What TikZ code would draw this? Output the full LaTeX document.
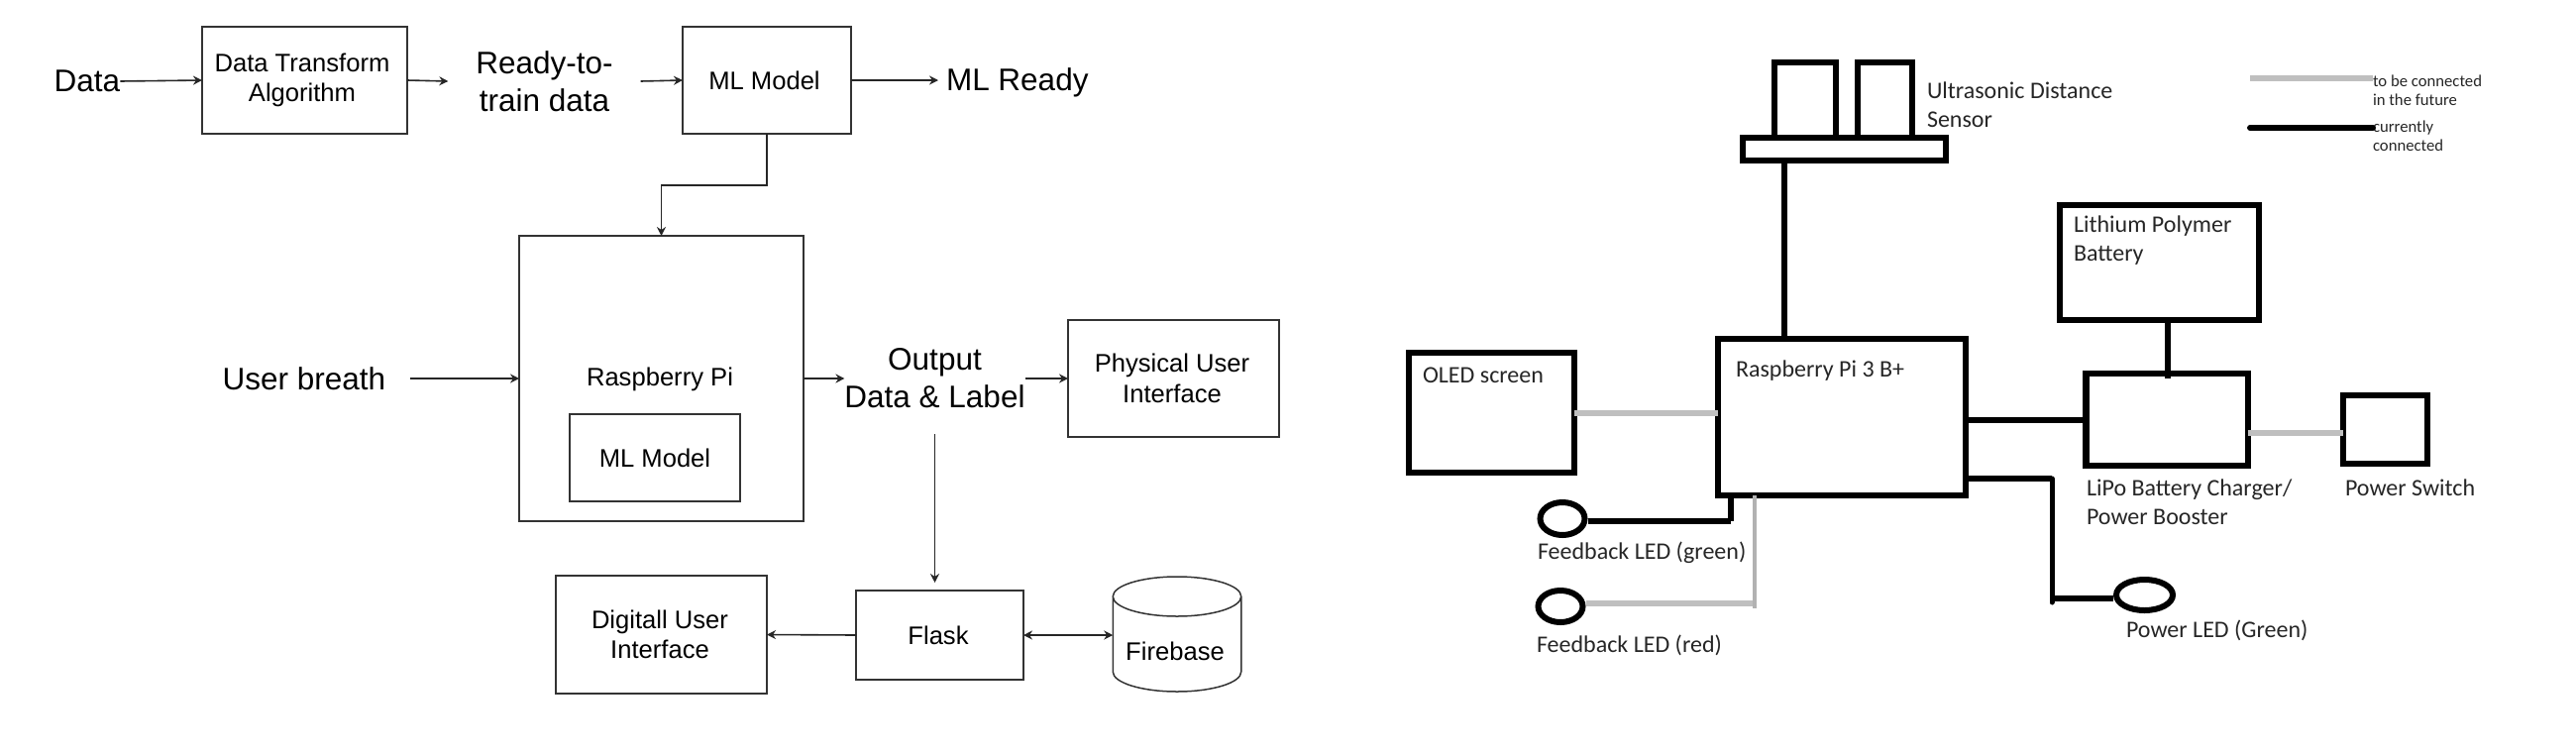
\documentclass[tikz,border=0pt]{standalone}
\usepackage{fontspec}
\setmainfont{Liberation Sans}
\newfontfamily\calfont{Carlito}
\usetikzlibrary{arrows.meta,shapes.geometric}
\tikzset{
  flow/.style={draw=black!85,line width=1.6pt,-{Stealth[length=9pt,width=9pt]}},
  flowtwo/.style={draw=black!85,line width=1.6pt,{Stealth[length=9pt,width=9pt]}-{Stealth[length=9pt,width=9pt]}},
  fbox/.style={draw=black!80,line width=1.5pt,inner sep=0pt,outer sep=0pt,align=center,font=\fontsize{25.6}{30.5}\selectfont},
  bigtxt/.style={inner sep=0pt,outer sep=0pt,align=center,font=\fontsize{31.5}{38}\selectfont},
  hw/.style={draw=black,line width=6.5pt,inner sep=0pt,outer sep=0pt},
  led/.style={draw=black,line width=6pt,ellipse,inner sep=0pt,outer sep=3pt,fill=white},
  now/.style={draw=black,line width=6pt},
  thinnow/.style={draw=black,line width=5pt},
  future/.style={draw=black!25,line width=6pt},
  thinfuture/.style={draw=black!30,line width=3.5pt},
  lab/.style={inner sep=0pt,outer sep=0pt,anchor=west,align=left,text=black!85,font=\calfont\fontsize{24}{29}\selectfont},
  leg/.style={inner sep=0pt,outer sep=0pt,anchor=west,align=left,text=black!85,font=\calfont\fontsize{16.7}{19}\selectfont},
}
\begin{document}
\begin{tikzpicture}[x=1pt,y=-1pt]
\useasboundingbox (0,0) rectangle (2600,761);
% ---------- left diagram
\node[bigtxt] (data) at (88,82) {Data};
\node[fbox,minimum width=207pt,minimum height=108pt] (dt) at (307.5,81) {\kern-5pt Data Transform\\\kern-5pt Algorithm};
\node[bigtxt,inner xsep=28pt] (ready) at (549.5,82) {Ready-to-\\train data};
\node[fbox,minimum width=170pt,minimum height=108pt] (ml) at (774,81) {\kern-5pt ML Model};
\node[bigtxt,inner xsep=8pt,anchor=west] (mlr) at (947,83) {ML Ready};
\node[fbox,minimum width=287pt,minimum height=288pt] (rpi) at (667.5,382) {};
\node[inner sep=0pt,font=\fontsize{25.6}{30}\selectfont] (rpit) at (666,383) {Raspberry Pi};
\node[fbox,minimum width=172pt,minimum height=88pt] (iml) at (661,462) {ML Model};
\node[bigtxt,inner xsep=25pt] (ub) at (307,382) {User breath};
\node[bigtxt] (out) at (943.5,382) {Output\\Data \& Label};
\node[fbox,minimum width=213pt,minimum height=118pt] (phys) at (1184.5,382) {\kern-3pt Physical User\\\kern-3pt Interface};
\node[fbox,minimum width=169pt,minimum height=90pt] (flask) at (948.5,641) {\kern-3pt Flask};
\node[fbox,minimum width=213pt,minimum height=119pt] (dig) at (667.5,640.5) {\kern-3pt Digitall User\\\kern-3pt Interface};
\node[inner sep=0pt,outer sep=0pt,minimum width=129.5pt,minimum height=116pt] (fb) at (1188,640) {};
\node[inner sep=0pt,font=\fontsize{25.6}{30}\selectfont] (fbt) at (1186,657) {Firebase};
\draw[draw=black!80,line width=1.5pt]
  ([yshift=-20pt]fb.north west) -- ([yshift=20pt]fb.south west)
  arc[start angle=180,end angle=360,x radius=64.75pt,y radius=20pt]
  -- ([yshift=-20pt]fb.north east)
  arc[start angle=0,end angle=180,x radius=64.75pt,y radius=20pt]
  arc[start angle=180,end angle=360,x radius=64.75pt,y radius=20pt];
\coordinate (o1) at (943.5,438);
\coordinate (o2) at (943.5,588);
\draw[flow] (data.east) -- (dt.west);
\draw[flow] (dt.east) -- (ready.west);
\draw[flow] (ready.east) -- (ml.west);
\draw[flow] (ml.east) -- (ml.east -| mlr.west);
\draw[flow] (ml.south) -- ++(0,52) -| (rpi.north);
\draw[flow] (ub.east) -- (rpi.west);
\draw[flow] (rpi.east) -- (out.west);
\draw[flow] (out.east) -- (phys.west);
\draw[flow,line width=1.2pt] (o1) -- (o2);
\draw[flow] (flask.west) -- (dig.east);
\draw[flowtwo] (flask.east) -- (flask.east -| fb.west);
% ---------- right diagram
\node[hw,minimum width=62pt,minimum height=76pt] (usl) at (1822,101) {};
\node[hw,minimum width=55pt,minimum height=76pt] (usr) at (1902.5,101) {};
\node[hw,minimum width=205pt,minimum height=23pt] (bar) at (1861.5,150.5) {};
\node[hw,minimum width=250pt,minimum height=158pt] (pi) at (1859,421) {};
\node[hw,minimum width=167pt,minimum height=121pt] (oled) at (1505.5,416.5) {};
\node[hw,minimum width=201pt,minimum height=116pt] (lith) at (2179.5,265) {};
\node[hw,minimum width=163.5pt,minimum height=93pt] (lipo) at (2187,423.5) {};
\node[hw,minimum width=85pt,minimum height=69pt] (sw) at (2407.5,433.5) {};
\node[led,minimum width=45pt,minimum height=33pt] (gl) at (1577,523.5) {};
\node[led,minimum width=45pt,minimum height=32pt] (rl) at (1575,612) {};
\node[led,minimum width=57pt,minimum height=31pt] (pl) at (2164.5,600.5) {};
\coordinate (u1) at (1801,300);
\coordinate (b1) at (2188,350);
\coordinate (c1) at (1747,526);
\coordinate (c2) at (1771,609);
\coordinate (c3) at (2071,483);
\coordinate (c4) at (2071,608);
\coordinate (c5) at (2071,604);
\coordinate (y1) at (2050,424);
\coordinate (y2) at (2300,437);
\coordinate (y3) at (1650,417);
\draw[now] (bar.south -| u1) -- (pi.north -| u1);
\draw[now] (lith.south -| b1) -- ([yshift=-5pt]lipo.north -| b1);
\draw[now] (pi.east |- y1) -- (lipo.west |- y1);
\draw[now] (c1) -- (pi.south -| c1);
\draw[now] (gl.east |- c1) -- (c1);
\draw[now] (pi.east |- c3) -- (c3);
\draw[thinnow,line cap=round] (c3) -- (c4);
\draw[now] (c5) -- (pl.west |- c5);
\draw[future] (oled.east |- y3) -- (pi.west |- y3);
\draw[future] (lipo.east |- y2) -- (sw.west |- y2);
\draw[future] (rl.east |- c2) -- (c2);
\draw[thinfuture] (pi.south -| c2) -- ([yshift=-5pt]c2);
\node[lab] (ustxt) at (1945,105.5) {Ultrasonic Distance\\Sensor};
\node[lab] (lithtxt) at (2093,242.5) {Lithium Polymer\\Battery};
\node[lab] (pitxt) at (1752,374) {Raspberry Pi 3 B+};
\node[lab] (oledtxt) at (1436,379) {OLED screen};
\node[lab] (lipotxt) at (2106,506.5) {LiPo Battery Charger/\\Power Booster};
\node[lab] (swtxt) at (2367,492) {Power Switch};
\node[lab] (gltxt) at (1552,558) {Feedback LED (green)};
\node[lab] (rltxt) at (1551,651) {Feedback LED (red)};
\node[lab] (pltxt) at (2146,636) {Power LED (Green)};
\node[leg] (legf) at (2395,91.5) {to be connected\\in the future};
\node[leg] (legc) at (2395,137) {currently\\connected};
\coordinate (lf) at (2271,79);
\coordinate (ln) at (2271,129);
\draw[future] (lf) -- (lf -| legf.west);
\draw[now,line cap=round] (ln) -- (ln -| legc.west);
\end{tikzpicture}
\end{document}
